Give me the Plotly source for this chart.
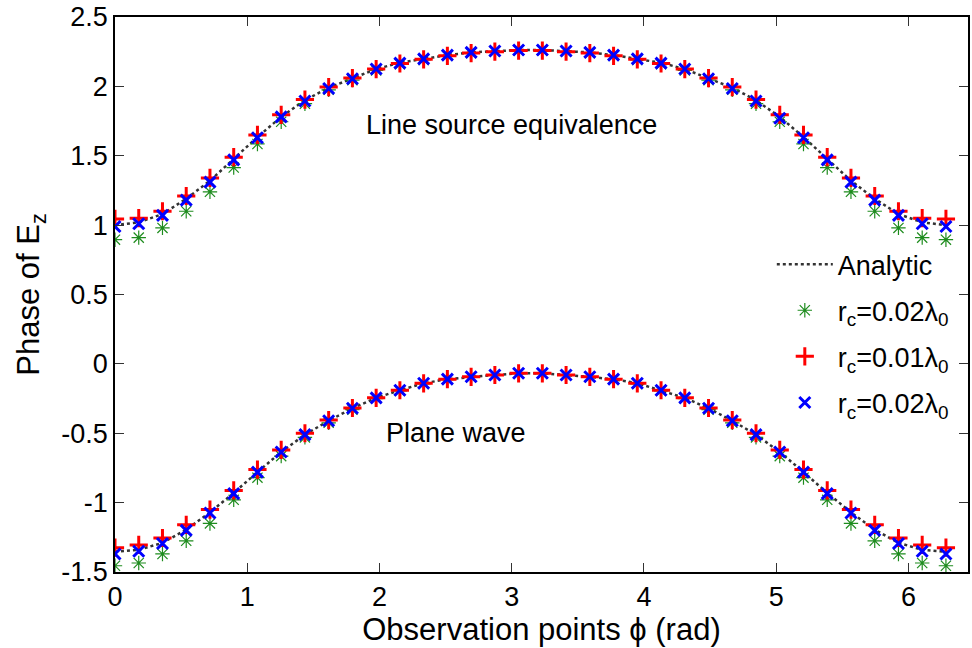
import numpy as np
import plotly.graph_objects as go

# Observation points (36 samples over one full turn)
phi = np.linspace(0, 2 * np.pi, 36)

# Line source equivalence (upper curves)
analytic_top = [1.00, 1.02, 1.08, 1.19, 1.32, 1.475, 1.635, 1.78, 1.90, 1.99, 2.06, 2.125,
                2.17, 2.20, 2.225, 2.245, 2.255, 2.262, 2.262, 2.255, 2.245, 2.225, 2.20, 2.17,
                2.125, 2.06, 1.99, 1.90, 1.78, 1.635, 1.475, 1.32, 1.19, 1.08, 1.02, 1.00]
g_top = [0.895, 0.91, 0.98, 1.10, 1.24, 1.415, 1.585, 1.745, 1.875, 1.975, 2.045, 2.115,
         2.16, 2.19, 2.22, 2.24, 2.25, 2.258, 2.258, 2.25, 2.24, 2.22, 2.19, 2.16,
         2.115, 2.045, 1.975, 1.875, 1.745, 1.585, 1.415, 1.24, 1.10, 0.98, 0.91, 0.895]
r_top = [1.045, 1.05, 1.10, 1.21, 1.34, 1.49, 1.65, 1.795, 1.905, 1.995, 2.06, 2.125,
         2.165, 2.195, 2.22, 2.24, 2.25, 2.258, 2.258, 2.25, 2.24, 2.22, 2.195, 2.165,
         2.125, 2.06, 1.995, 1.905, 1.795, 1.65, 1.49, 1.34, 1.21, 1.10, 1.05, 1.045]
b_top = [0.99, 1.01, 1.07, 1.18, 1.31, 1.47, 1.63, 1.78, 1.895, 1.985, 2.055, 2.125,
         2.168, 2.198, 2.225, 2.245, 2.255, 2.262, 2.262, 2.255, 2.245, 2.225, 2.198, 2.168,
         2.125, 2.055, 1.985, 1.895, 1.77, 1.63, 1.47, 1.31, 1.18, 1.07, 1.01, 0.99]

# Plane wave (lower curves)
analytic_bot = [-1.355, -1.34, -1.29, -1.195, -1.07, -0.93, -0.78, -0.635, -0.51, -0.41, -0.32, -0.245,
                -0.19, -0.14, -0.11, -0.093, -0.08, -0.068, -0.068, -0.08, -0.093, -0.11, -0.14, -0.19,
                -0.245, -0.32, -0.41, -0.51, -0.635, -0.78, -0.93, -1.07, -1.195, -1.29, -1.34, -1.355]
g_bot = [-1.455, -1.435, -1.37, -1.275, -1.15, -0.98, -0.82, -0.665, -0.53, -0.425, -0.33, -0.25,
         -0.195, -0.145, -0.113, -0.095, -0.082, -0.07, -0.07, -0.082, -0.095, -0.113, -0.145, -0.195,
         -0.25, -0.33, -0.425, -0.53, -0.665, -0.82, -0.98, -1.15, -1.275, -1.37, -1.435, -1.455]
r_bot = [-1.325, -1.305, -1.255, -1.16, -1.05, -0.912, -0.762, -0.62, -0.50, -0.405, -0.318, -0.245,
         -0.19, -0.14, -0.11, -0.093, -0.08, -0.068, -0.068, -0.08, -0.093, -0.11, -0.14, -0.19,
         -0.245, -0.318, -0.405, -0.50, -0.62, -0.762, -0.912, -1.05, -1.16, -1.255, -1.305, -1.325]
b_bot = [-1.37, -1.35, -1.295, -1.20, -1.075, -0.935, -0.78, -0.635, -0.51, -0.41, -0.32, -0.245,
         -0.19, -0.14, -0.11, -0.093, -0.08, -0.068, -0.068, -0.08, -0.093, -0.11, -0.14, -0.19,
         -0.245, -0.32, -0.41, -0.51, -0.635, -0.78, -0.935, -1.075, -1.20, -1.295, -1.35, -1.37]

x_ticks = [0, 1, 2, 3, 4, 5, 6]
x_ticktext = ["0", "1", "2", "3", "4", "5", "6"]
y_ticks = [-1.5, -1, -0.5, 0, 0.5, 1, 1.5, 2, 2.5]
y_ticktext = ["-1.5", "-1", "-0.5", "0", "0.5", "1", "1.5", "2", "2.5"]

names = ["Analytic", "r<sub>c</sub>=0.02λ<sub>0</sub>",
         "r<sub>c</sub>=0.01λ<sub>0</sub>", "r<sub>c</sub>=0.02λ<sub>0</sub>"]

FONT = "Liberation Sans, Arial, sans-serif"
GREEN = "#1e8c1e"
RED = "#ff0000"
BLUE = "#0000ff"
DARK = "#333333"

fig = go.Figure()

for idx, (a, g, r, b) in enumerate([(analytic_top, g_top, r_top, b_top),
                                    (analytic_bot, g_bot, r_bot, b_bot)]):
    show = idx == 0
    fig.add_trace(go.Scatter(x=phi, y=a, mode="lines", name=names[0], legendgroup="a",
                             showlegend=show,
                             line=dict(color=DARK, width=2.5, dash="dot")))
    fig.add_trace(go.Scatter(x=phi, y=g, mode="markers", name=names[1], legendgroup="g",
                             showlegend=show,
                             marker=dict(symbol="asterisk-open", size=12, color=GREEN,
                                         line=dict(color=GREEN, width=1.2))))
    fig.add_trace(go.Scatter(x=phi, y=r, mode="markers", name=names[2], legendgroup="r",
                             showlegend=show,
                             marker=dict(symbol="cross-thin-open", size=13, color=RED,
                                         line=dict(color=RED, width=3))))
    fig.add_trace(go.Scatter(x=phi, y=b, mode="markers", name=names[3], legendgroup="b",
                             showlegend=show,
                             marker=dict(symbol="x-thin-open", size=11, color=BLUE,
                                         line=dict(color=BLUE, width=3))))

axis_common = dict(showline=True, linecolor="black", linewidth=1.5, mirror="ticks",
                   ticks="inside", ticklen=9, tickcolor="#333333", tickwidth=1,
                   showgrid=False, zeroline=False,
                   tickfont=dict(family=FONT, size=27, color="black"))

fig.update_xaxes(range=[0, 6.45], tickvals=x_ticks, ticktext=x_ticktext,
                 title=dict(text="Observation points ϕ (rad)",
                            font=dict(family=FONT, size=31, color="black"), standoff=2),
                 **axis_common)
fig.update_yaxes(range=[-1.5, 2.5], tickvals=y_ticks, ticktext=y_ticktext,
                 title=dict(text="Phase of E<sub>z</sub>",
                            font=dict(family=FONT, size=31, color="black"), standoff=12),
                 **axis_common)

fig.add_annotation(x=3.0, y=1.72, text="Line source equivalence", showarrow=False,
                   font=dict(family=FONT, size=27, color="black"))
fig.add_annotation(x=2.58, y=-0.50, text="Plane wave", showarrow=False,
                   font=dict(family=FONT, size=27, color="black"))

fig.update_layout(
    width=972, height=648,
    margin=dict(l=115, r=2, t=17, b=76),
    paper_bgcolor="white", plot_bgcolor="white",
    font=dict(family=FONT, size=27, color="black"),
    legend=dict(x=0.770, y=0.598, xanchor="left", yanchor="top",
                bgcolor="rgba(0,0,0,0)", borderwidth=0, itemwidth=56,
                font=dict(family=FONT, size=27, color="black"),
                traceorder="grouped", tracegroupgap=8),
    showlegend=True,
)

fig.write_html("out.html")
